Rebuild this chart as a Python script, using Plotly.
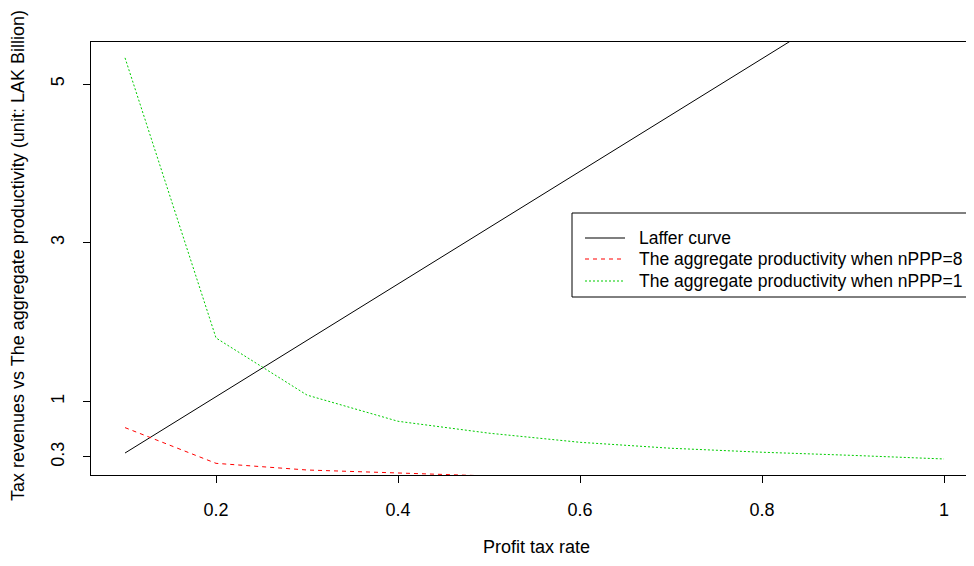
import plotly.graph_objects as go

tax_rate = [0.1, 0.2, 0.3, 0.4, 0.5, 0.6, 0.7, 0.8, 0.9, 1.0]
laffer = [0.35, 1.06, 1.77, 2.48, 3.19, 3.90, 4.61, 5.32, 6.03, 6.74]
prod_nppp8 = [0.67, 0.22, 0.136, 0.10, 0.061, 0.055, 0.05, 0.045, 0.04, 0.035]
prod_nppp1 = [5.33, 1.80, 1.08, 0.75, 0.60, 0.485, 0.41, 0.36, 0.32, 0.275]

series_names = ["Laffer curve",
                "The aggregate productivity when nPPP=8",
                "The aggregate productivity when nPPP=1"]
series_colors = ["#000000", "#ff0000", "#00cd00"]
series_dash = ["solid", "4px,4px", "2px,2px"]

x_ticks = [0.2, 0.4, 0.6, 0.8, 1.0]
x_tick_labels = ["0.2", "0.4", "0.6", "0.8", "1"]
y_ticks = [0.3, 1, 3, 5]
y_tick_labels = ["0.3", "1", "3", "5"]

font = "Liberation Sans, Arial, sans-serif"
fs = 18
lfs = 17.5

# page body has an 8px margin: plot area in window pixels = x 91..974, y 42..475
PL, PR, PT, PB = 91, 974, 42, 475
def px(x):
    return (x - PL) / (PR - PL)
def py(y):
    return (PB - y) / (PB - PT)

fig = go.Figure()
for name, yv, col, dsh in zip(series_names, [laffer, prod_nppp8, prod_nppp1],
                              series_colors, series_dash):
    fig.add_trace(go.Scatter(x=tax_rate, y=yv, mode="lines", name=name,
                             line=dict(color=col, width=1, dash=dsh), showlegend=False))

shapes = [dict(type="rect", xref="paper", yref="paper", x0=px(572), x1=px(990),
               y0=py(297), y1=py(213), line=dict(color="black", width=1),
               fillcolor="white", layer="above")]
annotations = [
    dict(text="Profit tax rate", xref="paper", yref="paper", x=px(536), y=0,
         yshift=-72, xanchor="center", yanchor="middle", showarrow=False,
         font=dict(size=fs)),
    dict(text="Tax revenues vs The aggregate productivity (unit: LAK Billion)",
         xref="paper", yref="paper", x=0, y=py(256), xshift=-73, textangle=-90,
         xanchor="center", yanchor="middle", showarrow=False, font=dict(size=fs)),
]
for i, (name, col, dsh) in enumerate(zip(series_names, series_colors, series_dash)):
    yy = [238, 259, 281][i]
    shapes.append(dict(type="line", xref="paper", yref="paper", x0=px(585), x1=px(625),
                       y0=py(yy), y1=py(yy), line=dict(color=col, width=1.2, dash=dsh),
                       layer="above"))
    annotations.append(dict(text=name, xref="paper", yref="paper", x=px(637), y=py(yy),
                            xanchor="left", yanchor="middle", showarrow=False,
                            font=dict(size=lfs)))

fig.update_layout(
    width=966, height=550,
    margin=dict(l=83, r=0, t=34, b=83, autoexpand=False),
    paper_bgcolor="white", plot_bgcolor="white",
    font=dict(family=font, size=fs, color="black"),
    showlegend=False,
    xaxis=dict(range=[0.0626, 0.0626 + (PR - PL) / 910], tickvals=x_ticks,
               ticktext=x_tick_labels,
               showgrid=False, zeroline=False, showline=True, mirror=True,
               linecolor="black", linewidth=1, ticks="outside", ticklen=7,
               tickcolor="black", tickfont=dict(size=fs), automargin=False,
               ticklabelstandoff=11),
    yaxis=dict(range=[0.073, 5.53], tickvals=y_ticks, ticktext=y_tick_labels,
               showgrid=False, zeroline=False, showline=True, mirror=False,
               linecolor="black", linewidth=1, ticks="outside", ticklen=7,
               tickcolor="black", tickangle=-90, tickfont=dict(size=fs), automargin=False,
               ticklabelstandoff=12),
    shapes=shapes,
    annotations=annotations,
)

fig.write_html("out.html")
